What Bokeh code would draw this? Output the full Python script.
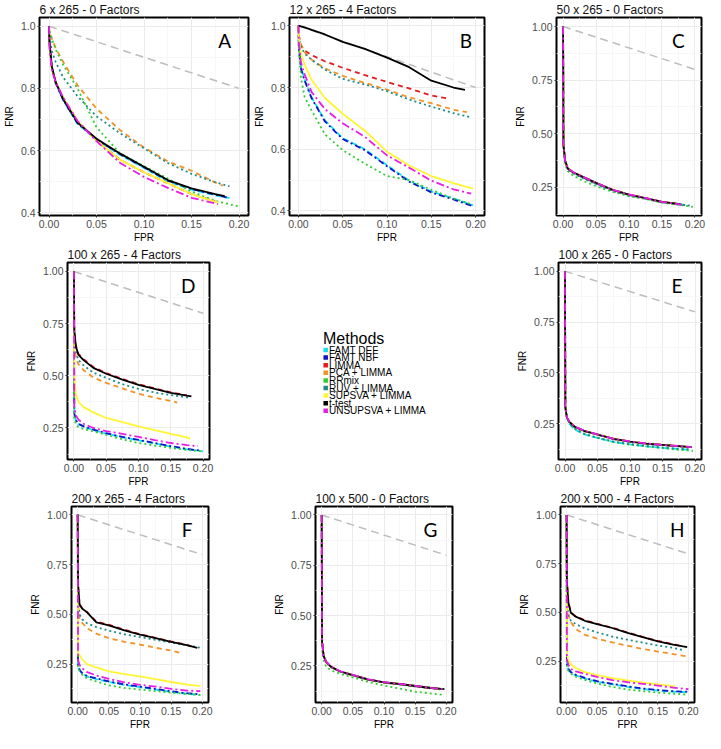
from bokeh.plotting import figure
from bokeh.layouts import row, column
from bokeh.models import Range1d, FixedTicker, NumeralTickFormatter
from bokeh.core.properties import value
from bokeh.embed import file_html
from bokeh.resources import INLINE

# ---------------- data ----------------
METHODS = ["FAMT DEF", "FAMT NBF", "LIMMA", "PCA + LIMMA", "RRmix",
           "RUV + LIMMA", "SUPSVA + LIMMA", "t-test", "UNSUPSVA + LIMMA"]
COLORS = ["#10E0F0", "#0A14C8", "#E41A1C", "#F39224", "#33CC33",
          "#1F8C8C", "#FFF533", "#000000", "#E61EE6"]
DASHES = ["6 3", "6 3 2 3", "5 4", "5 4", "2 3", "2 3", "solid", "solid", "8 3 2 3"]

TITLES = ["6 x 265 - 0 Factors", "12 x 265 - 4 Factors", "50 x 265 - 0 Factors",
          "100 x 265 - 4 Factors", "100 x 265 - 0 Factors", "200 x 265 - 4 Factors",
          "100 x 500 - 0 Factors", "200 x 500 - 4 Factors"]
LETTERS = ["A", "B", "C", "D", "E", "F", "G", "H"]

DIAG_FPR = [0.0, 0.2]
DIAG_FNR = [1.0, 0.8]

X_TICKS = [0.0, 0.05, 0.10, 0.15, 0.20]
X_MINOR = [0.025, 0.075, 0.125, 0.175]
Y_TICKS_AB = [0.4, 0.6, 0.8, 1.0]
Y_MINOR_AB = [0.5, 0.7, 0.9]
Y_TICKS = [0.25, 0.50, 0.75, 1.00]
Y_MINOR = [0.125, 0.375, 0.625, 0.875]

FPR_GRID = [0.0, 0.0005, 0.003, 0.007, 0.015, 0.03, 0.05, 0.075, 0.1, 0.125, 0.15, 0.175]

# Panel A: 6 x 265 - 0 Factors
A_FNR = {
    "FAMT DEF":         [1.0, 0.946, 0.866, 0.816, 0.761, 0.686, 0.634, 0.586, 0.544, 0.501, 0.474, 0.456],
    "FAMT NBF":         [1.0, 0.948, 0.868, 0.818, 0.763, 0.688, 0.636, 0.588, 0.546, 0.503, 0.476, 0.458],
    "LIMMA":            [1.0, 0.94, 0.865, 0.82, 0.77, 0.695, 0.632, 0.57, 0.53, 0.495, 0.46, 0.435],
    "PCA + LIMMA":      [1.0, 0.985, 0.96, 0.93, 0.885, 0.81, 0.735, 0.665, 0.61, 0.565, 0.535, 0.497],
    "RRmix":            [1.0, 0.985, 0.96, 0.925, 0.875, 0.80, 0.675, 0.59, 0.55, 0.51, 0.468, 0.438],
    "RUV + LIMMA":      [1.0, 0.97, 0.92, 0.885, 0.835, 0.775, 0.71, 0.655, 0.607, 0.56, 0.525, 0.498],
    "SUPSVA + LIMMA":   [1.0, 0.94, 0.865, 0.82, 0.77, 0.695, 0.632, 0.57, 0.53, 0.495, 0.46, 0.435],
    "t-test":           [1.0, 0.95, 0.87, 0.82, 0.765, 0.69, 0.638, 0.59, 0.548, 0.505, 0.478, 0.46],
    "UNSUPSVA + LIMMA": [1.0, 0.93, 0.86, 0.82, 0.77, 0.695, 0.63, 0.56, 0.515, 0.48, 0.448, 0.43],
}
A_END_FPR = [0.19, 0.187, 0.175, 0.183, 0.2, 0.19, 0.178, 0.185, 0.178]
A_END_FNR = [0.447, 0.449, 0.436, 0.487, 0.42, 0.485, 0.433, 0.453, 0.428]

# Panel B: 12 x 265 - 4 Factors
B_FNR = {
    "FAMT DEF":         [1.0, 0.933, 0.863, 0.826, 0.768, 0.693, 0.636, 0.6, 0.548, 0.498, 0.463, 0.44],
    "FAMT NBF":         [1.0, 0.93, 0.86, 0.823, 0.765, 0.69, 0.633, 0.597, 0.545, 0.495, 0.46, 0.437],
    "LIMMA":            [1.0, 0.97, 0.935, 0.92, 0.905, 0.885, 0.864, 0.84, 0.818, 0.797, 0.774, None],
    "PCA + LIMMA":      [1.0, 0.966, 0.94, 0.915, 0.89, 0.862, 0.838, 0.815, 0.793, 0.768, 0.749, 0.728],
    "RRmix":            [1.0, 0.93, 0.83, 0.77, 0.725, 0.648, 0.597, 0.553, 0.513, 0.5, 0.468, 0.44],
    "RUV + LIMMA":      [1.0, 0.96, 0.935, 0.91, 0.89, 0.858, 0.828, 0.81, 0.788, 0.761, 0.738, 0.717],
    "SUPSVA + LIMMA":   [1.0, 0.96, 0.91, 0.874, 0.825, 0.766, 0.715, 0.66, 0.592, 0.547, 0.513, 0.49],
    "t-test":           [1.0, 1.0, 0.998, 0.995, 0.987, 0.972, 0.948, 0.925, 0.897, 0.866, 0.822, 0.8],
    "UNSUPSVA + LIMMA": [1.0, 0.95, 0.88, 0.843, 0.785, 0.73, 0.684, 0.64, 0.58, 0.54, 0.498, 0.47],
}
B_END_FPR = [0.197, 0.197, 0.171, 0.19, 0.197, 0.195, 0.197, 0.188, 0.195]
B_END_FNR = [0.418, 0.415, 0.763, 0.72, 0.42, 0.703, 0.472, 0.792, 0.456]

# Panel C: 50 x 265 - 0 Factors
C_FNR = {
    "FAMT DEF":         [1.0, 0.45, 0.372, 0.335, 0.317, 0.295, 0.267, 0.236, 0.213, 0.198, 0.181, 0.171],
    "FAMT NBF":         [1.0, 0.45, 0.373, 0.336, 0.318, 0.296, 0.268, 0.237, 0.214, 0.198, 0.181, 0.171],
    "LIMMA":            [1.0, 0.45, 0.375, 0.338, 0.32, 0.298, 0.27, 0.238, 0.215, 0.199, 0.182, 0.172],
    "PCA + LIMMA":      [1.0, 0.45, 0.375, 0.338, 0.32, 0.298, 0.27, 0.238, 0.215, 0.199, 0.182, 0.172],
    "RRmix":            [1.0, 0.44, 0.36, 0.325, 0.305, 0.28, 0.255, 0.228, 0.208, 0.195, 0.178, 0.168],
    "RUV + LIMMA":      [1.0, 0.45, 0.37, 0.333, 0.315, 0.292, 0.264, 0.233, 0.211, 0.197, 0.18, 0.17],
    "SUPSVA + LIMMA":   [1.0, 0.45, 0.375, 0.338, 0.32, 0.298, 0.27, 0.238, 0.215, 0.199, 0.182, 0.172],
    "t-test":           [1.0, 0.45, 0.375, 0.338, 0.32, 0.298, 0.27, 0.238, 0.215, 0.199, 0.182, 0.172],
    "UNSUPSVA + LIMMA": [1.0, 0.45, 0.376, 0.339, 0.321, 0.299, 0.271, 0.238, 0.216, 0.2, 0.182, 0.171],
}
C_END_FPR = [0.19, 0.185, 0.175, 0.178, 0.197, 0.195, 0.178, 0.178, 0.18]
C_END_FNR = [0.165, 0.167, 0.171, 0.17, 0.158, 0.163, 0.17, 0.17, 0.168]

# Panel D: 100 x 265 - 4 Factors
D_FNR = {
    "FAMT DEF":         [1.0, 0.318, 0.286, 0.268, 0.256, 0.24, 0.223, 0.205, 0.191, 0.176, 0.161, 0.148],
    "FAMT NBF":         [1.0, 0.32, 0.288, 0.27, 0.258, 0.242, 0.225, 0.207, 0.193, 0.178, 0.163, 0.15],
    "LIMMA":            [1.0, 0.725, 0.645, 0.605, 0.58, 0.542, 0.513, 0.485, 0.46, 0.44, 0.421, 0.407],
    "PCA + LIMMA":      [1.0, 0.67, 0.585, 0.555, 0.527, 0.492, 0.466, 0.44, 0.414, 0.395, 0.38, None],
    "RRmix":            [1.0, 0.3, 0.265, 0.255, 0.245, 0.234, 0.217, 0.196, 0.178, 0.166, 0.155, 0.145],
    "RUV + LIMMA":      [1.0, 0.7, 0.61, 0.575, 0.55, 0.515, 0.49, 0.46, 0.437, 0.42, 0.408, 0.397],
    "SUPSVA + LIMMA":   [1.0, 0.5, 0.41, 0.375, 0.35, 0.325, 0.298, 0.278, 0.258, 0.24, 0.222, 0.205],
    "t-test":           [1.0, 0.72, 0.64, 0.6, 0.575, 0.538, 0.51, 0.482, 0.457, 0.437, 0.418, 0.405],
    "UNSUPSVA + LIMMA": [1.0, 0.35, 0.31, 0.29, 0.27, 0.25, 0.235, 0.222, 0.207, 0.192, 0.178, 0.168],
}
D_END_FPR = [0.2, 0.197, 0.175, 0.16, 0.2, 0.18, 0.18, 0.182, 0.192]
D_END_FNR = [0.138, 0.141, 0.406, 0.372, 0.138, 0.395, 0.198, 0.402, 0.163]

# Panel E: 100 x 265 - 0 Factors
E_FNR = {
    "FAMT DEF":         [1.0, 0.33, 0.278, 0.248, 0.222, 0.197, 0.18, 0.16, 0.148, 0.139, 0.131, 0.126],
    "FAMT NBF":         [1.0, 0.33, 0.28, 0.257, 0.234, 0.213, 0.196, 0.174, 0.161, 0.151, 0.145, 0.139],
    "LIMMA":            [1.0, 0.33, 0.28, 0.258, 0.235, 0.214, 0.197, 0.175, 0.162, 0.152, 0.146, 0.14],
    "PCA + LIMMA":      [1.0, 0.33, 0.28, 0.258, 0.235, 0.214, 0.197, 0.175, 0.162, 0.152, 0.146, 0.14],
    "RRmix":            [1.0, 0.33, 0.279, 0.252, 0.228, 0.2, 0.18, 0.16, 0.147, 0.138, 0.13, 0.122],
    "RUV + LIMMA":      [1.0, 0.33, 0.279, 0.25, 0.225, 0.199, 0.182, 0.162, 0.15, 0.141, 0.133, 0.127],
    "SUPSVA + LIMMA":   [1.0, 0.33, 0.28, 0.258, 0.235, 0.214, 0.197, 0.175, 0.162, 0.152, 0.146, 0.14],
    "t-test":           [1.0, 0.33, 0.28, 0.258, 0.235, 0.214, 0.197, 0.175, 0.162, 0.152, 0.146, 0.14],
    "UNSUPSVA + LIMMA": [1.0, 0.33, 0.281, 0.259, 0.236, 0.215, 0.198, 0.176, 0.163, 0.153, 0.146, 0.14],
}
E_END_FPR = [0.19, 0.192, 0.19, 0.19, 0.197, 0.195, 0.192, 0.195, 0.195]
E_END_FNR = [0.122, 0.135, 0.135, 0.135, 0.116, 0.124, 0.135, 0.135, 0.135]

# Panel F: 200 x 265 - 4 Factors
F_FNR = {
    "FAMT DEF":         [1.0, 0.242, 0.219, 0.202, 0.187, 0.175, 0.16, 0.145, 0.134, 0.122, 0.11, 0.101],
    "FAMT NBF":         [1.0, 0.245, 0.222, 0.205, 0.19, 0.178, 0.163, 0.148, 0.137, 0.125, 0.113, 0.104],
    "LIMMA":            [1.0, 0.65, 0.552, 0.531, 0.512, 0.463, 0.448, 0.423, 0.4, 0.382, 0.364, 0.347],
    "PCA + LIMMA":      [1.0, 0.55, 0.48, 0.458, 0.43, 0.403, 0.38, 0.362, 0.348, 0.332, 0.318, None],
    "RRmix":            [1.0, 0.237, 0.215, 0.197, 0.178, 0.163, 0.143, 0.13, 0.122, 0.114, 0.107, 0.1],
    "RUV + LIMMA":      [1.0, 0.6, 0.5, 0.475, 0.455, 0.436, 0.418, 0.4, 0.386, 0.372, 0.358, 0.345],
    "SUPSVA + LIMMA":   [1.0, 0.305, 0.295, 0.275, 0.25, 0.233, 0.213, 0.2, 0.188, 0.175, 0.16, 0.147],
    "t-test":           [1.0, 0.65, 0.55, 0.529, 0.51, 0.46, 0.445, 0.42, 0.398, 0.38, 0.362, 0.345],
    "UNSUPSVA + LIMMA": [1.0, 0.27, 0.245, 0.229, 0.21, 0.193, 0.176, 0.158, 0.146, 0.137, 0.125, 0.117],
}
F_END_FPR = [0.197, 0.197, 0.185, 0.163, 0.197, 0.197, 0.197, 0.192, 0.197]
F_END_FNR = [0.095, 0.098, 0.336, 0.308, 0.095, 0.332, 0.139, 0.332, 0.114]

# Panel G: 100 x 500 - 0 Factors
G_FNR = {
    "FAMT DEF":         [1.0, 0.37, 0.3, 0.27, 0.245, 0.222, 0.204, 0.182, 0.168, 0.16, 0.15, 0.14],
    "FAMT NBF":         [1.0, 0.37, 0.3, 0.27, 0.245, 0.222, 0.204, 0.182, 0.168, 0.16, 0.15, 0.14],
    "LIMMA":            [1.0, 0.37, 0.3, 0.27, 0.245, 0.222, 0.204, 0.182, 0.168, 0.16, 0.15, 0.14],
    "PCA + LIMMA":      [1.0, 0.37, 0.3, 0.27, 0.245, 0.222, 0.204, 0.182, 0.168, 0.16, 0.15, 0.14],
    "RRmix":            [1.0, 0.34, 0.28, 0.246, 0.228, 0.21, 0.193, 0.17, 0.152, 0.137, 0.122, 0.113],
    "RUV + LIMMA":      [1.0, 0.37, 0.3, 0.268, 0.243, 0.22, 0.202, 0.18, 0.166, 0.157, 0.147, 0.138],
    "SUPSVA + LIMMA":   [1.0, 0.37, 0.3, 0.27, 0.245, 0.222, 0.204, 0.182, 0.168, 0.16, 0.15, 0.14],
    "t-test":           [1.0, 0.37, 0.3, 0.27, 0.245, 0.222, 0.204, 0.182, 0.168, 0.16, 0.15, 0.14],
    "UNSUPSVA + LIMMA": [1.0, 0.37, 0.301, 0.271, 0.246, 0.223, 0.205, 0.183, 0.169, 0.161, 0.151, 0.141],
}
G_END_FPR = [0.195, 0.195, 0.195, 0.195, 0.197, 0.195, 0.195, 0.197, 0.197]
G_END_FNR = [0.134, 0.134, 0.134, 0.134, 0.106, 0.132, 0.134, 0.134, 0.134]

# Panel H: 200 x 500 - 4 Factors
H_FNR = {
    "FAMT DEF":         [1.0, 0.231, 0.207, 0.191, 0.177, 0.161, 0.144, 0.131, 0.118, 0.107, 0.099, 0.093],
    "FAMT NBF":         [1.0, 0.234, 0.21, 0.194, 0.18, 0.164, 0.147, 0.134, 0.121, 0.11, 0.102, 0.096],
    "LIMMA":            [1.0, 0.66, 0.552, 0.5, 0.48, 0.459, 0.442, 0.422, 0.397, 0.375, 0.354, 0.337],
    "PCA + LIMMA":      [1.0, 0.52, 0.49, 0.45, 0.415, 0.385, 0.366, 0.346, 0.329, 0.313, 0.299, 0.286],
    "RRmix":            [1.0, 0.226, 0.2, 0.186, 0.17, 0.154, 0.135, 0.118, 0.105, 0.096, 0.089, 0.083],
    "RUV + LIMMA":      [1.0, 0.55, 0.48, 0.458, 0.44, 0.418, 0.398, 0.376, 0.36, 0.345, 0.33, 0.318],
    "SUPSVA + LIMMA":   [1.0, 0.29, 0.255, 0.234, 0.215, 0.194, 0.178, 0.163, 0.151, 0.14, 0.131, 0.122],
    "t-test":           [1.0, 0.66, 0.55, 0.498, 0.478, 0.457, 0.44, 0.42, 0.395, 0.373, 0.352, 0.335],
    "UNSUPSVA + LIMMA": [1.0, 0.258, 0.23, 0.21, 0.197, 0.185, 0.169, 0.153, 0.142, 0.134, 0.125, 0.114],
}
H_END_FPR = [0.2, 0.2, 0.19, 0.198, 0.197, 0.192, 0.178, 0.198, 0.2]
H_END_FNR = [0.09, 0.093, 0.327, 0.274, 0.079, 0.306, 0.122, 0.322, 0.106]

# ---------------- styling ----------------
FONT = "Liberation Sans"


def make_panel(idx, fnr, end_fpr, end_fnr, y_lo, y_hi, y_ticks, y_minor, y_fmt,
               width, height, left, right, top, bottom, letter_gap):
    p = figure(width=width, height=height, output_backend="svg", toolbar_location=None,
               x_range=Range1d(-0.01, 0.21), y_range=Range1d(y_lo, y_hi),
               min_border_left=left, min_border_right=right,
               min_border_top=top, min_border_bottom=bottom)
    p.title.text = TITLES[idx]
    p.title.text_font = FONT
    p.title.text_font_size = "12px"
    p.title.text_font_style = "normal"
    p.title.text_color = "#111111"
    p.title.align = "left"
    p.title.standoff = 1
    p.outline_line_color = "black"
    p.outline_line_width = 2
    p.outline_line_alpha = 1
    p.background_fill_color = "white"
    p.border_fill_color = "white"

    p.xaxis.ticker = FixedTicker(ticks=X_TICKS, minor_ticks=X_MINOR)
    p.yaxis.ticker = FixedTicker(ticks=y_ticks, minor_ticks=y_minor)
    p.xaxis.formatter = NumeralTickFormatter(format="0.00")
    p.yaxis.formatter = NumeralTickFormatter(format=y_fmt)
    p.xaxis.axis_label = "FPR"
    p.yaxis.axis_label = "FNR"
    for ax in (p.xaxis, p.yaxis):
        ax.axis_line_color = None
        ax.major_tick_out = 2
        ax.major_tick_in = 0
        ax.minor_tick_out = 0
        ax.minor_tick_in = 0
        ax.major_tick_line_color = "#333333"
        ax.major_label_text_font = FONT
        ax.major_label_text_font_size = "10.5px"
        ax.major_label_text_color = "#4D4D4D"
        ax.major_label_standoff = 2
        ax.axis_label_text_font = FONT
        ax.axis_label_text_font_size = "10px"
        ax.axis_label_text_font_style = "normal"
        ax.axis_label_text_color = "black"
    p.xaxis.axis_label_standoff = 1
    p.yaxis.axis_label_standoff = 3

    p.grid.grid_line_color = "#EBEBEB"
    p.grid.grid_line_width = 1
    p.grid.minor_grid_line_color = "#F5F5F5"
    p.grid.minor_grid_line_width = 0.8

    # reference diagonal
    p.line(DIAG_FPR, DIAG_FNR, line_color="#BDBDBD", line_width=1.5, line_dash="8 5")

    for m, method in enumerate(METHODS):
        vals = fnr[method]
        xs = [g for g, v in zip(FPR_GRID, vals) if v is not None and g < end_fpr[m]]
        ys = [v for g, v in zip(FPR_GRID, vals) if v is not None and g < end_fpr[m]]
        xs.append(end_fpr[m])
        ys.append(end_fnr[m])
        p.line(xs, ys, line_color=COLORS[m], line_width=1.8, line_dash=DASHES[m])

    frame_w = width - left - right
    frame_h = height - top - bottom
    lx = 0.21 - letter_gap / frame_w * 0.22
    ly = y_hi - 12.0 / frame_h * (y_hi - y_lo)
    p.text(x=[lx], y=[ly], text=[LETTERS[idx]], text_font=value("Lato"),
           text_font_size="19px", text_align="right", text_baseline="top", text_color="black")
    return p


pA = make_panel(0, A_FNR, A_END_FPR, A_END_FNR, 0.391, 1.028, Y_TICKS_AB, Y_MINOR_AB, "0.0",
                250, 245, 31, 2, 14, 28, 18)
pB = make_panel(1, B_FNR, B_END_FPR, B_END_FNR, 0.385, 1.027, Y_TICKS_AB, Y_MINOR_AB, "0.0",
                262, 245, 32, 28, 14, 28, 13)
pC = make_panel(2, C_FNR, C_END_FPR, C_END_FNR, 0.118, 1.042, Y_TICKS, Y_MINOR, "0.00",
                193, 245, 43, 4, 14, 28, 17)
pD = make_panel(3, D_FNR, D_END_FPR, D_END_FNR, 0.099, 1.043, Y_TICKS, Y_MINOR, "0.00",
                240, 244, 67, 31, 12, 27, 14)
pE = make_panel(4, E_FNR, E_END_FPR, E_END_FNR, 0.074, 1.043, Y_TICKS, Y_MINOR, "0.00",
                200, 244, 53, 4, 12, 27, 19)
pF = make_panel(5, F_FNR, F_END_FPR, F_END_FNR, 0.057, 1.042, Y_TICKS, Y_MINOR, "0.00",
                250, 243, 71, 42, 13, 25, 16)
pG = make_panel(6, G_FNR, G_END_FPR, G_END_FNR, 0.068, 1.042, Y_TICKS, Y_MINOR, "0.00",
                255, 243, 65, 53, 13, 25, 15)
pH = make_panel(7, H_FNR, H_END_FPR, H_END_FNR, 0.038, 1.043, Y_TICKS, Y_MINOR, "0.00",
                200, 243, 55, 11, 13, 25, 10)

# legend panel (1 data unit = 1 px, y measured downward from the top)
LW, LH = 265, 244
leg = figure(frame_width=LW, frame_height=LH, output_backend="svg", toolbar_location=None,
             x_range=Range1d(0, LW), y_range=Range1d(0, LH),
             min_border=0, min_border_left=0, min_border_right=0,
             min_border_top=0, min_border_bottom=0,
             x_axis_location=None, y_axis_location=None)
leg.grid.visible = False
leg.outline_line_color = None
leg_x0 = 83.0
leg_title_y = 75.5
leg_y0 = 87.5
leg_step = 7.6
item_y = [LH - (leg_y0 + i * leg_step) for i in range(len(METHODS))]
leg.text(x=[leg_x0 - 0.5], y=[LH - leg_title_y], text=["Methods"], text_font=value(FONT),
         text_font_size="16px", text_baseline="alphabetic", text_color="black")
leg.rect(x=[leg_x0 + 2.2] * len(METHODS), y=item_y, width=4.5, height=4.5,
         fill_color=COLORS, line_color=None)
leg.text(x=[leg_x0 + 5.5] * len(METHODS), y=item_y, text=METHODS, text_font=value(FONT),
         text_font_size="10px", text_baseline="middle", text_color="black")

layout = column(row(pA, pB, pC), row(pD, leg, pE), row(pF, pG, pH))

open("out.html", "w").write(file_html(layout, INLINE))
